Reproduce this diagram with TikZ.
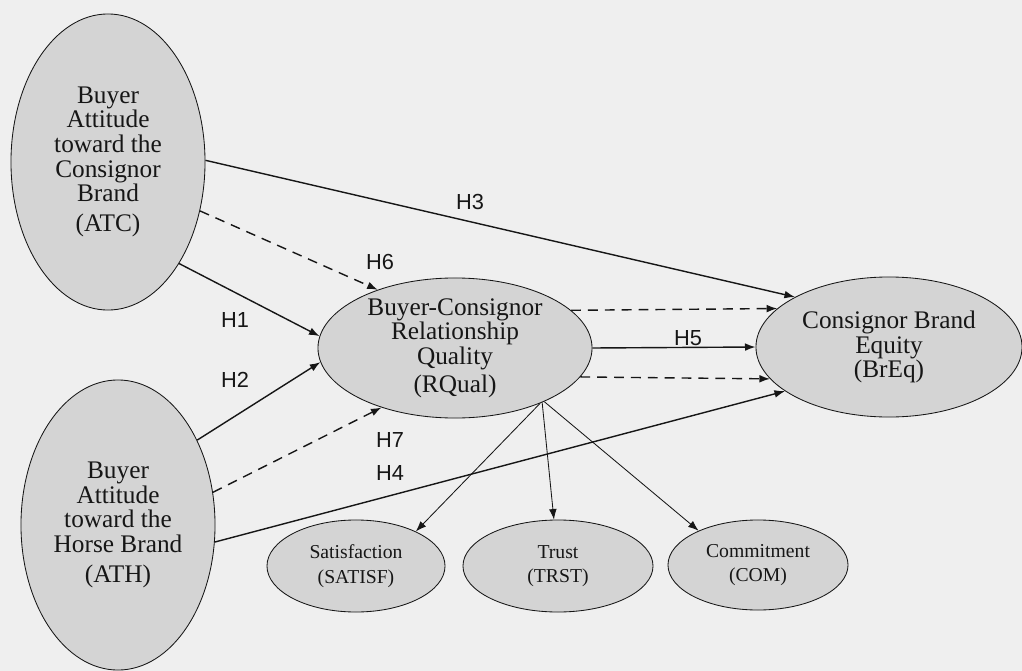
\documentclass[tikz,border=0pt]{standalone}
\usepackage{fontspec}
\setmainfont{Liberation Serif}
\newfontfamily\hypfont{Liberation Sans}
\usetikzlibrary{arrows.meta, positioning, shapes.geometric}

\definecolor{paper}{RGB}{239,239,239}
\definecolor{ellfill}{RGB}{212,212,212}
\definecolor{ink}{RGB}{22,22,22}

\begin{document}
\begin{tikzpicture}[x=0.025cm, y=-0.025cm,
	construct/.style={draw=ink, ellipse, fill=ellfill, line width=0.6pt, inner sep=0pt,
		align=center, text=ink, font=\fontsize{18}{17.5}\selectfont},
	indicator/.style={construct, font=\fontsize{14}{17.5}\selectfont},
	hpath/.style={draw=ink, line width=1pt, -{Latex[length=7.5pt,width=5.5pt]}},
	mediated/.style={hpath, dash pattern=on 7pt off 5pt},
	loading/.style={draw=ink, line width=0.6pt, -{Latex[length=7.5pt,width=5.5pt]}},
	hyp/.style={text=ink, font=\hypfont\fontsize{15.5}{15.5}\selectfont}]

	\path[fill=paper, use as bounding box] (0,0) rectangle (1022,671);

	% Constructs
	\node[construct, minimum width=4.85cm, minimum height=7.4cm] (atc) at (108,162)
		{Buyer\\Attitude\\toward the\\Consignor\\Brand\\[4pt](ATC)};
	\node[construct, minimum width=4.85cm, minimum height=7.25cm] (ath) at (118,525)
		{Buyer\\Attitude\\toward the\\Horse Brand\\[4pt](ATH)};
	\node[construct, minimum width=6.85cm, minimum height=3.5cm] (rqual) at (455,348)
		{Buyer-Consignor\\Relationship\\Quality\\[2pt](RQual)};
	\node[construct, minimum width=6.65cm, minimum height=3.5cm] (breq) at (889,347)
		{Consignor Brand\\Equity\\(BrEq)};

	% Indicators
	\node[indicator, minimum width=4.45cm, minimum height=2.3cm] (satisf) at (356,566)
		{Satisfaction\\(SATISF)};
	\node[indicator, minimum width=4.75cm, minimum height=2.3cm] (trst) at (558,566)
		{Trust\\(TRST)};
	\node[indicator, minimum width=4.5cm, minimum height=2.25cm] (com) at (758,565)
		{Commitment\\(COM)};

	% Hypotheses
	\draw[hpath] (atc.1) -- (breq.152.7);
	\draw[mediated] (atc.-28) -- (rqual.143);
	\draw[hpath] (atc.-55) -- (rqual.175.5);
	\draw[hpath] (ath.47.8) -- (rqual.-174);
	\draw[mediated] (ath.19) -- (rqual.-141);
	\draw[hpath] (ath.-10) -- (breq.-157.7);
	\draw[mediated] (rqual.18.9) -- (breq.161.7);
	\draw[hpath] (rqual.0) -- (breq.180);
	\draw[mediated] (rqual.-13.6) -- (breq.-165.4);

	\node[hyp] (h3) at (470,202) {H3};
	\node[hyp] (h6) at (380,262) {H6};
	\node[hyp] (h1) at (235,320) {H1};
	\node[hyp] (h2) at (235,380) {H2};
	\node[hyp] (h5) at (688,338) {H5};
	\node[hyp] (h7) at (390,440) {H7};
	\node[hyp] (h4) at (390,473) {H4};

	% Loadings
	\draw[loading] (rqual.-33) -- (satisf.30);
	\draw[loading] (rqual.-32) -- (trst.95);
	\draw[loading] (rqual.-31) -- (com.150);

\end{tikzpicture}
\end{document}
